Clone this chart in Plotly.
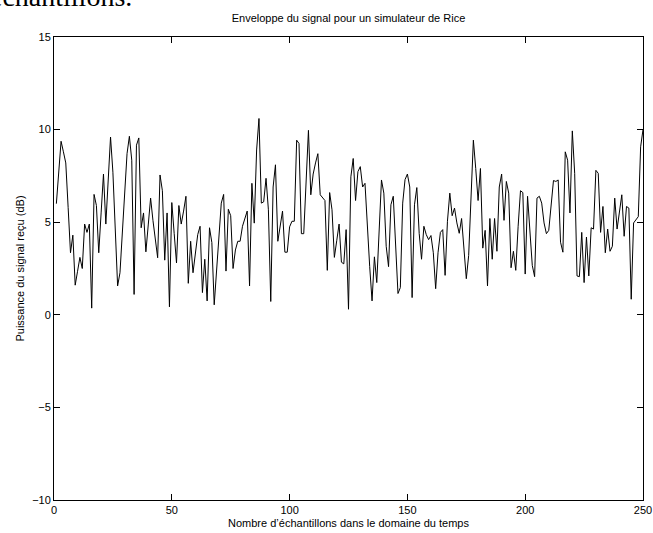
import plotly.graph_objects as go

samples = list(range(1, 251))
power_db = [
    6.0, 7.7, 9.37, 8.8, 8.2, 5.8, 3.35, 4.3, 1.6, 2.35,
    3.1, 2.5, 4.9, 4.45, 4.9, 0.36, 6.5, 5.9, 3.35, 5.5,
    7.6, 4.9, 7.2, 9.6, 7.7, 4.6, 1.56, 2.27, 4.4, 6.6,
    8.7, 9.64, 8.35, 1.1, 9.16, 9.55, 4.7, 5.5, 3.4, 4.85,
    6.3, 5.1, 4.1, 3.08, 7.55, 6.7, 2.95, 5.5, 0.43, 6.06,
    4.4, 2.8, 5.9, 4.9, 5.6, 6.4, 1.7, 3.97, 2.27, 3.3,
    4.33, 4.78, 1.2, 3.0, 0.75, 4.7, 3.9, 0.54, 2.4, 4.2,
    6.03, 6.5, 2.36, 5.7, 5.35, 2.5, 3.5, 3.97, 3.97, 4.78,
    5.2, 5.6, 1.56, 7.1, 4.95, 8.9, 10.6, 6.03, 6.1, 7.37,
    5.67, 0.72, 6.9, 8.1, 3.97, 4.8, 5.6, 3.38, 3.38, 4.75,
    5.05, 5.05, 9.43, 9.25, 4.38, 4.38, 7.2, 9.96, 6.48, 7.6,
    8.2, 8.7, 6.48, 6.3, 6.17, 2.4, 6.6, 5.67, 3.1, 4.0,
    4.9, 2.84, 2.75, 4.6, 0.3, 7.45, 8.44, 6.17, 7.73, 8.0,
    6.9, 7.1, 4.6, 2.6, 0.75, 3.13, 1.74, 4.5, 7.28, 6.57,
    3.7, 2.6, 5.94, 6.4, 4.06, 1.15, 1.47, 6.03, 7.3, 7.6,
    6.9, 0.93, 5.94, 6.87, 4.4, 3.0, 4.78, 4.33, 4.06, 4.28,
    3.35, 1.41, 3.35, 4.45, 4.6, 2.13, 5.05, 6.57, 5.35, 5.76,
    4.96, 4.4, 5.2, 3.35, 1.95, 3.2, 6.2, 9.43, 7.9, 6.17,
    7.9, 3.6, 4.56, 1.56, 5.2, 3.0, 5.2, 3.43, 6.9, 7.6,
    5.1, 7.2, 6.57, 2.54, 3.43, 2.4, 4.78, 6.7, 6.6, 2.2,
    6.4, 4.33, 2.67, 2.06, 6.3, 6.4, 6.03, 4.96, 4.38, 4.56,
    6.03, 7.25, 7.2, 7.28, 3.92, 3.38, 8.8, 8.35, 5.5, 9.93,
    7.64, 2.1, 2.06, 4.45, 1.74, 4.2, 2.1, 4.7, 4.63, 7.8,
    7.64, 4.45, 5.85, 3.35, 4.63, 3.43, 3.7, 6.3, 4.63, 5.53,
    6.48, 4.24, 5.85, 5.76, 0.84, 4.96, 5.13, 5.3, 9.07, 10.0,
]

x_ticks = [0, 50, 100, 150, 200, 250]
y_ticks = [-10, -5, 0, 5, 10, 15]

title_text = "Enveloppe du signal pour un simulateur de Rice"
x_label = "Nombre d\u2019\u00e9chantillons dans le domaine du temps"
y_label = "Puissance du signal re\u00e7u (dB)"
page_text = "\u00e9chantillons."

FONT = "Liberation Sans, Arial, Helvetica, sans-serif"

fig = go.Figure()
fig.add_trace(go.Scatter(
    x=samples, y=power_db, mode="lines",
    line=dict(color="black", width=1),
    hoverinfo="skip", showlegend=False,
))

axis_common = dict(
    showline=True, linecolor="black", linewidth=1, mirror="ticks",
    ticks="inside", ticklen=6, tickwidth=1, tickcolor="black",
    showgrid=False, zeroline=False, automargin=False,
    tickfont=dict(family=FONT, size=11, color="black"),
)

fig.update_xaxes(range=[0, 250], tickvals=x_ticks,
                 title=dict(text=x_label, font=dict(family=FONT, size=11, color="black"), standoff=4),
                 **axis_common)
fig.update_yaxes(range=[-10, 15], tickvals=y_ticks,
                 title=dict(text=y_label, font=dict(family=FONT, size=11, color="black"), standoff=5),
                 **axis_common)

fig.update_layout(
    width=653, height=533,
    margin=dict(l=54, r=10, t=37, b=33, pad=0, autoexpand=False),
    paper_bgcolor="white", plot_bgcolor="white",
    title=dict(text=title_text, font=dict(family=FONT, size=11, color="black"),
               xref="paper", x=0.5, xanchor="center", y=1 - 18 / 533, yanchor="middle",
               automargin=False),
    annotations=[dict(
        text=page_text, xref="paper", yref="paper",
        x=(-12 - 54) / 589, y=(500 - 14) / 463,
        xanchor="left", yanchor="bottom", showarrow=False,
        font=dict(family="Liberation Serif, Times New Roman, serif", size=28, color="black"),
    )],
)

fig.write_html("out.html",
               config={"displayModeBar": False},
               post_script="document.body.style.margin='0';document.body.style.overflow='hidden';")
